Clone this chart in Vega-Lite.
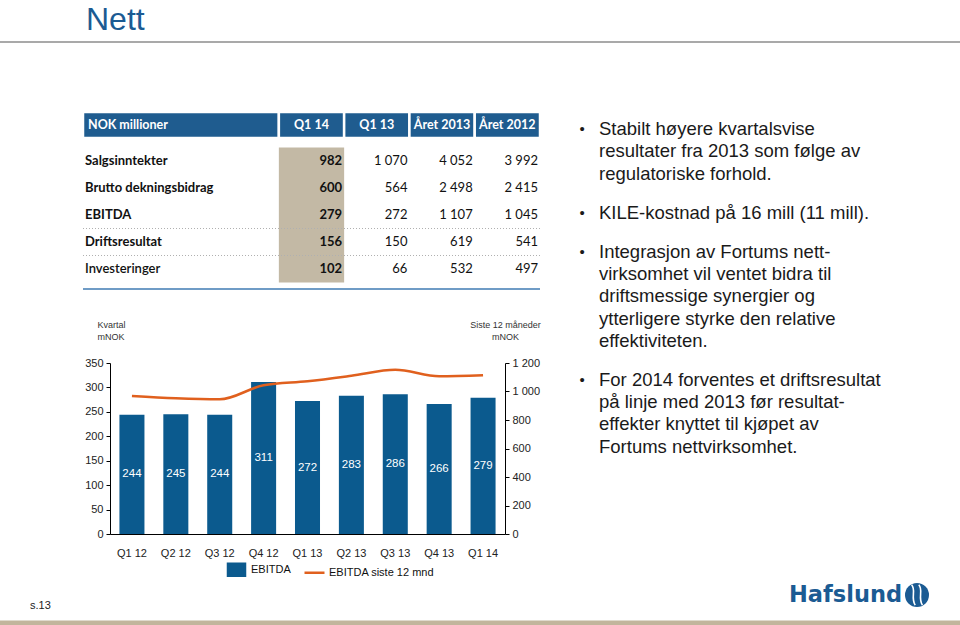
{
  "$schema": "https://vega.github.io/schema/vega-lite/v6.json",
  "width": 395,
  "height": 171,
  "autosize": "none",
  "padding": {"left": 110, "top": 363, "right": 455, "bottom": 91},
  "background": "white",
  "config": {
    "view": {"stroke": null},
    "font": "Liberation Sans",
    "locale": {"number": {"decimal": ",", "thousands": " ", "grouping": [3], "currency": ["", " kr"]}},
    "axis": {"labelFont": "Liberation Sans", "labelFontSize": 11, "labelColor": "#222", "domainColor": "#000", "tickColor": "#000", "grid": false}
  },
  "datasets": {
    "quarters": [
      {"q": "Q1 12", "ebitda": 244, "ltm": 968},
      {"q": "Q2 12", "ebitda": 245, "ltm": 952},
      {"q": "Q3 12", "ebitda": 244, "ltm": 945},
      {"q": "Q4 12", "ebitda": 311, "ltm": 1044},
      {"q": "Q1 13", "ebitda": 272, "ltm": 1072},
      {"q": "Q2 13", "ebitda": 283, "ltm": 1110},
      {"q": "Q3 13", "ebitda": 286, "ltm": 1152},
      {"q": "Q4 13", "ebitda": 266, "ltm": 1107},
      {"q": "Q1 14", "ebitda": 279, "ltm": 1114}
    ],
    "header": [
      {"h": "NOK millioner", "c0": 0, "c1": 3},
      {"h": "Q1 14", "c0": 3, "c1": 4},
      {"h": "Q1 13", "c0": 4, "c1": 5},
      {"h": "Året 2013", "c0": 5, "c1": 6},
      {"h": "Året 2012", "c0": 6, "c1": 7}
    ],
    "rows": [
      {"r": 1, "item": "Salgsinntekter"},
      {"r": 2, "item": "Brutto dekningsbidrag"},
      {"r": 3, "item": "EBITDA"},
      {"r": 4, "item": "Driftsresultat"},
      {"r": 5, "item": "Investeringer"}
    ],
    "cells": [
      {"r": 1, "c1": 4, "v": 982}, {"r": 1, "c1": 5, "v": 1070}, {"r": 1, "c1": 6, "v": 4052}, {"r": 1, "c1": 7, "v": 3992},
      {"r": 2, "c1": 4, "v": 600}, {"r": 2, "c1": 5, "v": 564}, {"r": 2, "c1": 6, "v": 2498}, {"r": 2, "c1": 7, "v": 2415},
      {"r": 3, "c1": 4, "v": 279}, {"r": 3, "c1": 5, "v": 272}, {"r": 3, "c1": 6, "v": 1107}, {"r": 3, "c1": 7, "v": 1045},
      {"r": 4, "c1": 4, "v": 156}, {"r": 4, "c1": 5, "v": 150}, {"r": 4, "c1": 6, "v": 619}, {"r": 4, "c1": 7, "v": 541},
      {"r": 5, "c1": 4, "v": 102}, {"r": 5, "c1": 5, "v": 66}, {"r": 5, "c1": 6, "v": 532}, {"r": 5, "c1": 7, "v": 497}
    ],
    "bullets": [
      {"k": 0, "ln": 0, "t": "Stabilt høyere kvartalsvise"},
      {"k": 1, "ln": 1, "t": "resultater fra 2013 som følge av"},
      {"k": 2, "ln": 2, "t": "regulatoriske forhold."},
      {"k": 0, "ln": 3.75, "t": "KILE-kostnad på 16 mill (11 mill)."},
      {"k": 0, "ln": 5.5, "t": "Integrasjon av Fortums nett-"},
      {"k": 1, "ln": 6.5, "t": "virksomhet vil ventet bidra til"},
      {"k": 2, "ln": 7.5, "t": "driftsmessige synergier og"},
      {"k": 3, "ln": 8.5, "t": "ytterligere styrke den relative"},
      {"k": 4, "ln": 9.5, "t": "effektiviteten."},
      {"k": 0, "ln": 11.25, "t": "For 2014 forventes et driftsresultat"},
      {"k": 1, "ln": 12.25, "t": "på linje med 2013 før resultat-"},
      {"k": 2, "ln": 13.25, "t": "effekter knyttet til kjøpet av"},
      {"k": 3, "ln": 14.25, "t": "Fortums nettvirksomhet."}
    ]
  },
  "layer": [
    {
      "data": {"name": "quarters"},
      "layer": [
        {
          "mark": {"type": "bar"},
          "encoding": {
            "x": {"field": "q", "type": "nominal", "sort": null,
              "scale": {"paddingInner": 0.43, "paddingOuter": 0.215},
              "axis": {"orient": "bottom", "title": null, "labelAngle": 0, "ticks": false, "labelPadding": 13, "domainColor": "#000"}},
            "y": {"field": "ebitda", "type": "quantitative",
              "scale": {"domain": [0, 350], "nice": false},
              "axis": {"orient": "left", "values": [0, 50, 100, 150, 200, 250, 300, 350], "tickSize": 4, "labelPadding": 3,
                "title": ["Kvartal", "mNOK"], "titleAngle": 0, "titleAlign": "left", "titleBaseline": "top",
                "titleX": -13, "titleY": -43, "titleFont": "Liberation Sans", "titleFontSize": 9, "titleFontWeight": "normal",
                "titleColor": "#333", "titleLineHeight": 12}},
            "color": {"datum": "EBITDA", "type": "nominal",
              "scale": {"domain": ["EBITDA", "EBITDA siste 12 mnd"], "range": ["#0b5a8e", "#e0601e"]},
              "legend": {"orient": "none", "legendX": 115, "legendY": 195, "direction": "horizontal", "title": null,
                "labelFont": "Liberation Sans", "labelFontSize": 11, "labelColor": "#111", "columnPadding": 8, "labelOffset": 3,
                "symbolSize": 400,
                "encode": {"symbols": {"update": {
                  "shape": {"signal": "datum.value === 'EBITDA' ? 'M-1,-0.7H1V0.7H-1Z' : 'stroke'"},
                  "fill": {"signal": "datum.value === 'EBITDA' ? '#0b5a8e' : 'transparent'"},
                  "stroke": {"signal": "datum.value === 'EBITDA' ? 'transparent' : '#e0601e'"},
                  "strokeWidth": {"value": 2.5},
                  "size": {"signal": "datum.value === 'EBITDA' ? 289 : 400"},
                  "opacity": {"value": 1}
                }}}}}
          }
        },
        {
          "mark": {"type": "text", "color": "white", "fontSize": 11.5, "baseline": "middle", "font": "Liberation Sans"},
          "encoding": {
            "x": {"field": "q", "type": "nominal", "sort": null},
            "y": {"field": "ebitda", "type": "quantitative", "scale": {"domain": [0, 700], "nice": false}, "axis": null},
            "text": {"field": "ebitda", "type": "quantitative"}
          }
        },
        {
          "mark": {"type": "line", "strokeWidth": 2.5, "interpolate": "monotone"},
          "encoding": {
            "x": {"field": "q", "type": "nominal", "sort": null},
            "y": {"field": "ltm", "type": "quantitative",
              "scale": {"domain": [0, 1200], "nice": false},
              "axis": {"orient": "right", "values": [0, 200, 400, 600, 800, 1000, 1200], "tickSize": 4, "labelPadding": 3,
                "title": ["Siste 12 måneder", "mNOK"], "titleAngle": 0, "titleAlign": "center", "titleBaseline": "top",
                "titleX": 0, "titleY": -43, "titleFont": "Liberation Sans", "titleFontSize": 9, "titleFontWeight": "normal",
                "titleColor": "#333", "titleLineHeight": 12}},
            "color": {"datum": "EBITDA siste 12 mnd", "type": "nominal"}
          }
        }
      ],
      "resolve": {"scale": {"y": "independent"}}
    },
    {
      "layer": [
        {
          "data": {"values": [{}]},
          "mark": {"type": "rect", "color": "#c3b9a5"},
          "encoding": {
            "x": {"datum": 3, "type": "quantitative", "scale": {"domain": [0, 7], "range": [-27, 430], "nice": false, "zero": false}, "axis": null},
            "x2": {"datum": 4},
            "y": {"datum": 0.5, "type": "quantitative", "scale": {"domain": [0, 6], "range": [-229, -67], "nice": false, "zero": false}, "axis": null},
            "y2": {"datum": 5.5}
          }
        },
        {
          "data": {"name": "header"},
          "mark": {"type": "rect", "color": "#1f5c8f", "stroke": "white", "strokeWidth": 2.5},
          "encoding": {
            "x": {"field": "c0", "type": "quantitative", "axis": null},
            "x2": {"field": "c1"},
            "y": {"datum": -0.815, "type": "quantitative", "axis": null},
            "y2": {"datum": 0.148}
          }
        },
        {
          "data": {"name": "header"},
          "transform": [{"filter": "datum.c0 === 0"}],
          "mark": {"type": "text", "color": "white", "font": "Lato", "fontSize": 12.5, "fontWeight": "bold", "align": "left", "baseline": "middle", "dx": 5},
          "encoding": {
            "x": {"field": "c0", "type": "quantitative", "axis": null},
            "y": {"datum": -0.333, "type": "quantitative", "axis": null},
            "text": {"field": "h"}
          }
        },
        {
          "data": {"name": "header"},
          "transform": [{"filter": "datum.c0 > 0"}],
          "mark": {"type": "text", "color": "white", "font": "Lato", "fontSize": 12.5, "fontWeight": "bold", "align": "center", "baseline": "middle", "dx": 32.6},
          "encoding": {
            "x": {"field": "c0", "type": "quantitative", "axis": null},
            "y": {"datum": -0.333, "type": "quantitative", "axis": null},
            "text": {"field": "h"}
          }
        },
        {
          "data": {"values": [{}]},
          "mark": {"type": "rule", "color": "#b0b0b0", "strokeWidth": 1, "strokeDash": [1, 2]},
          "encoding": {"x": {"datum": 0, "type": "quantitative", "axis": null}, "x2": {"datum": 7}, "y": {"datum": 3.5, "type": "quantitative", "axis": null}}
        },
        {
          "data": {"values": [{}]},
          "mark": {"type": "rule", "color": "#b0b0b0", "strokeWidth": 1, "strokeDash": [1, 2]},
          "encoding": {"x": {"datum": 0, "type": "quantitative", "axis": null}, "x2": {"datum": 7}, "y": {"datum": 4.5, "type": "quantitative", "axis": null}}
        },
        {
          "data": {"values": [{}]},
          "mark": {"type": "rule", "color": "#6f9cc6", "strokeWidth": 2},
          "encoding": {"x": {"datum": 0, "type": "quantitative", "axis": null}, "x2": {"datum": 7}, "y": {"datum": 5.74, "type": "quantitative", "axis": null}}
        },
        {
          "data": {"name": "rows"},
          "transform": [{"filter": "datum.r < 5"}],
          "mark": {"type": "text", "color": "#111", "font": "Lato", "fontSize": 13, "fontWeight": "bold", "align": "left", "baseline": "middle", "dx": 2},
          "encoding": {
            "x": {"datum": 0, "type": "quantitative", "axis": null},
            "y": {"field": "r", "type": "quantitative", "axis": null},
            "text": {"field": "item"}
          }
        },
        {
          "data": {"name": "rows"},
          "transform": [{"filter": "datum.r === 5"}],
          "mark": {"type": "text", "color": "#111", "font": "Lato", "fontSize": 13, "fontWeight": 600, "align": "left", "baseline": "middle", "dx": 2},
          "encoding": {
            "x": {"datum": 0, "type": "quantitative", "axis": null},
            "y": {"field": "r", "type": "quantitative", "axis": null},
            "text": {"field": "item"}
          }
        },
        {
          "data": {"name": "cells"},
          "transform": [{"filter": "datum.c1 === 4"}],
          "mark": {"type": "text", "color": "#111", "font": "Lato", "fontSize": 13, "fontWeight": "bold", "align": "right", "baseline": "middle", "dx": -2},
          "encoding": {
            "x": {"field": "c1", "type": "quantitative", "axis": null},
            "y": {"field": "r", "type": "quantitative", "axis": null},
            "text": {"field": "v", "type": "quantitative", "format": ",d"}
          }
        },
        {
          "data": {"name": "cells"},
          "transform": [{"filter": "datum.c1 > 4"}],
          "mark": {"type": "text", "color": "#111", "font": "Lato", "fontSize": 13, "align": "right", "baseline": "middle", "dx": -2},
          "encoding": {
            "x": {"field": "c1", "type": "quantitative", "axis": null},
            "y": {"field": "r", "type": "quantitative", "axis": null},
            "text": {"field": "v", "type": "quantitative", "format": ",d"}
          }
        }
      ]
    },
    {
      "data": {"name": "bullets"},
      "layer": [
        {
          "mark": {"type": "text", "align": "left", "baseline": "middle", "fontSize": 18.5, "color": "#1a1a1a", "font": "Liberation Sans"},
          "encoding": {
            "x": {"datum": 1, "type": "quantitative", "scale": {"domain": [0, 1], "range": [472, 489], "nice": false, "zero": false}, "axis": null},
            "y": {"field": "ln", "type": "quantitative", "scale": {"domain": [0, 14.25], "range": [-234, 83.8], "nice": false, "zero": false}, "axis": null},
            "text": {"field": "t"}
          }
        },
        {
          "transform": [{"filter": "datum.k === 0"}],
          "mark": {"type": "text", "align": "center", "baseline": "middle", "fontSize": 15, "color": "#1a1a1a", "font": "Liberation Sans"},
          "encoding": {
            "x": {"datum": 0, "type": "quantitative", "axis": null},
            "y": {"field": "ln", "type": "quantitative", "axis": null},
            "text": {"value": "•"}
          }
        }
      ]
    },
    {
      "data": {"values": [{"t": "Nett"}]},
      "mark": {"type": "text", "x": -24, "y": -333.5, "align": "left", "baseline": "alphabetic", "fontSize": 32, "color": "#1b5b93", "font": "Liberation Sans"},
      "encoding": {"text": {"field": "t"}}
    },
    {
      "data": {"values": [{}]},
      "mark": {"type": "rect", "x": -110, "x2": 850, "y": -321.75, "y2": -320.25, "color": "#8c8c8c"},
      "encoding": {}
    },
    {
      "data": {"values": [{}]},
      "mark": {"type": "rect", "x": -110, "x2": 850, "y": 257.5, "y2": 262, "color": "#c2b59c"},
      "encoding": {}
    },
    {
      "data": {"values": [{"t": "s.13"}]},
      "mark": {"type": "text", "x": -80, "y": 243, "align": "left", "baseline": "middle", "fontSize": 11, "color": "#222", "font": "Liberation Sans"},
      "encoding": {"text": {"field": "t"}}
    },
    {
      "data": {"values": [{"t": "Hafslund"}]},
      "mark": {"type": "text", "x": 679, "y": 232, "align": "left", "baseline": "middle", "fontSize": 22.5, "fontWeight": "bold", "color": "#1b5b93", "font": "DejaVu Sans"},
      "encoding": {"text": {"field": "t"}}
    },
    {
      "data": {"values": [{}]},
      "mark": {"type": "point", "shape": "circle", "filled": true, "size": 576, "color": "#1b5b93", "opacity": 1, "x": 807, "y": 232},
      "encoding": {}
    },
    {
      "data": {"values": [{}]},
      "mark": {"type": "point", "shape": "M-0.45,-0.85C-0.05,-0.4 -0.55,0.2 -0.15,0.85M0.15,-0.85C0.55,-0.4 0.05,0.2 0.45,0.85", "filled": false, "size": 576, "stroke": "white", "strokeWidth": 1.6, "opacity": 1, "x": 807, "y": 232},
      "encoding": {}
    }
  ],
  "resolve": {"scale": {"x": "independent", "y": "independent"}}
}
